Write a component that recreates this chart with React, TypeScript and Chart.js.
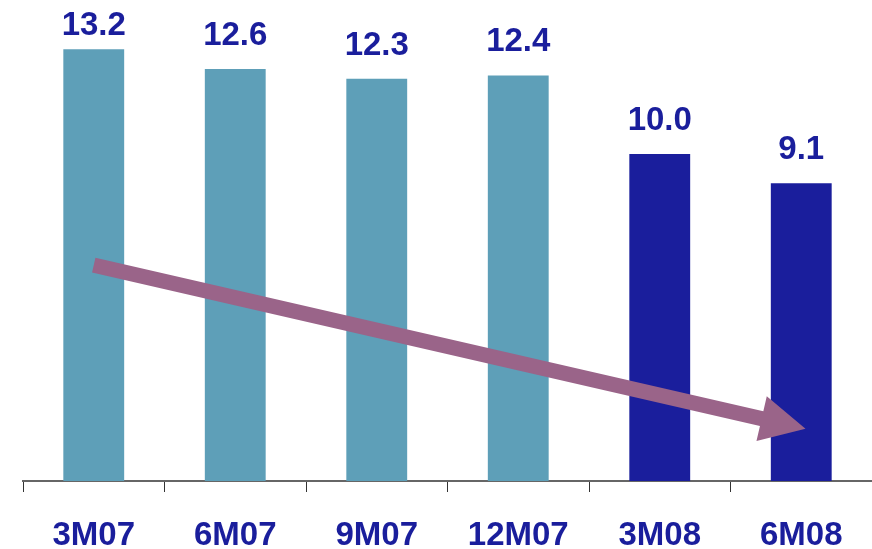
import React, { useEffect, useRef } from "react";
import { Chart, registerables } from "chart.js";

Chart.register(...registerables);

const periods = ["3M07", "6M07", "9M07", "12M07", "3M08", "6M08"];
const values = [13.2, 12.6, 12.3, 12.4, 10.0, 9.1];
const valueLabels = ["13.2", "12.6", "12.3", "12.4", "10.0", "9.1"];
const barColors = ["#5e9fb8", "#5e9fb8", "#5e9fb8", "#5e9fb8", "#1a1e9c", "#1a1e9c"];
// Downward trend arrow, in data space: [category index, value]
const trendFrom = [0, 6.6];
const trendTo = [5.03, 1.6];

const NAVY = "#1a1e9c";
const ARROW = "#9a6489";
const FONT = "'Liberation Sans', Arial, sans-serif";

const overlay = {
  id: "overlay",
  afterDatasetsDraw(chart: any) {
    const { ctx } = chart;
    const xs = chart.scales.x;
    const ys = chart.scales.y;
    const meta = chart.getDatasetMeta(0);

    ctx.save();
    // value labels above bars
    ctx.fillStyle = NAVY;
    ctx.font = `bold 33px ${FONT}`;
    ctx.textAlign = "center";
    ctx.textBaseline = "alphabetic";
    meta.data.forEach((bar: any, i: number) => {
      const y = Math.max(bar.y - 24, 35);
      ctx.fillText(valueLabels[i], bar.x, y);
    });

    // category labels under the axis
    ctx.font = `bold 33px ${FONT}`;
    periods.forEach((p, i) => {
      ctx.fillText(p, xs.getPixelForValue(i), 545);
    });

    // trend arrow
    const x0 = xs.getPixelForValue(trendFrom[0]);
    const y0 = ys.getPixelForValue(trendFrom[1]);
    const x1 = xs.getPixelForValue(trendTo[0]);
    const y1 = ys.getPixelForValue(trendTo[1]);
    const len = Math.hypot(x1 - x0, y1 - y0);
    const ux = (x1 - x0) / len;
    const uy = (y1 - y0) / len;
    const px = -uy;
    const py = ux;
    const half = 7.5;
    const headLen = 45;
    const headHalf = 23;
    const bx = x1 - ux * headLen;
    const by = y1 - uy * headLen;
    ctx.fillStyle = ARROW;
    ctx.beginPath();
    ctx.moveTo(x0 - px * half, y0 - py * half);
    ctx.lineTo(bx - px * half, by - py * half);
    ctx.lineTo(bx - px * headHalf, by - py * headHalf);
    ctx.lineTo(x1, y1);
    ctx.lineTo(bx + px * headHalf, by + py * headHalf);
    ctx.lineTo(bx + px * half, by + py * half);
    ctx.lineTo(x0 + px * half, y0 + py * half);
    ctx.closePath();
    ctx.fill();
    ctx.restore();
  },
};

export default function App() {
  const canvasRef = useRef<HTMLCanvasElement | null>(null);

  useEffect(() => {
    document.body.style.margin = "0";
    const chart = new Chart(canvasRef.current!, {
      type: "bar",
      data: {
        labels: periods,
        datasets: [
          {
            data: values,
            backgroundColor: barColors,
            borderWidth: 0,
            barPercentage: 0.43,
            categoryPercentage: 1,
          },
        ],
      },
      options: {
        responsive: false,
        animation: false,
        layout: { padding: { top: 10, left: 23, right: 0, bottom: 57 } },
        plugins: { legend: { display: false }, tooltip: { enabled: false } },
        scales: {
          x: {
            offset: true,
            ticks: { display: false },
            grid: {
              display: true,
              drawOnChartArea: false,
              drawTicks: true,
              tickLength: 11,
              color: "#333333",
              lineWidth: 1,
              offset: true,
            },
            border: { display: true, color: "#666666", width: 2 },
          },
          y: { display: false, min: 0, max: 14.4 },
        },
      },
      plugins: [overlay],
    });
    return () => chart.destroy();
  }, []);

  return (
    <div style={{ position: "fixed", left: 0, top: 0, width: 872, height: 549, background: "#fff" }}>
      <canvas ref={canvasRef} width={872} height={549} />
    </div>
  );
}
